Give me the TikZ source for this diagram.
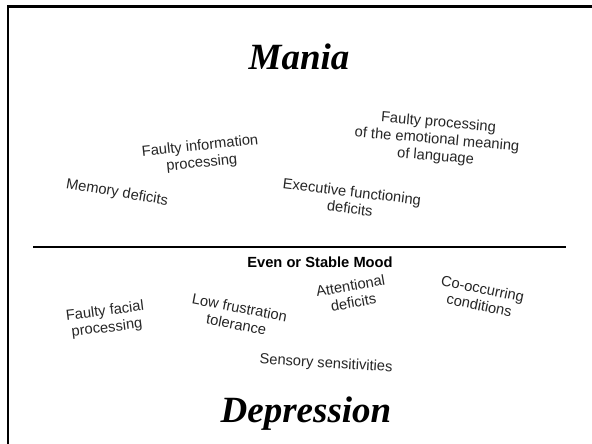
\documentclass[tikz,border=0pt]{standalone}
\usepackage{fontspec}
\setmainfont{Liberation Serif}
\setsansfont{Liberation Sans}
\begin{document}
\begin{tikzpicture}[x=1pt,y=-1pt,
  lbl/.style={font=\sffamily\fontsize{14.7}{17}\selectfont, align=center, inner sep=0pt, text=black!85},
  moodlbl/.style={font=\sffamily\bfseries\fontsize{14.7}{17}\selectfont, inner sep=0pt, text=black},
  titlelbl/.style={font=\rmfamily\bfseries\itshape\fontsize{37}{40}\selectfont, inner sep=0pt, anchor=base, text=black},
  frameline/.style={line width=2.5pt, black},
  divider/.style={line width=2.3pt, black}]
\useasboundingbox (0,0) rectangle (592,444);
\fill[white] (0,0) rectangle (592,444);
\draw[frameline] (8,446) -- (8,6.3) -- (594,6.3);
\coordinate (dl) at (33,247);
\coordinate (dr) at (566,247);
\draw[divider] (dl) -- (dr);
\node[titlelbl] (mania) at (299,70) {Mania};
\node[titlelbl] (depr) at (306,422) {Depression};
\node[moodlbl] (mood) at (320,262) {Even or Stable Mood};
\node[lbl, rotate=-5] (fp) at (437,140) {Faulty processing\\of the emotional meaning\\of language};
\node[lbl, rotate=6] (fi) at (201,155) {Faulty information\\processing};
\node[lbl, rotate=-9.5] (md) at (117,193) {Memory deficits};
\node[lbl, rotate=-7] (ef) at (351,200) {Executive functioning\\deficits};
\node[lbl, rotate=7] (ff) at (106,320) {Faulty facial\\processing};
\node[lbl, rotate=-11] (lf) at (238,316) {Low frustration\\tolerance};
\node[lbl, rotate=10] (ad) at (352,294) {Attentional\\deficits};
\node[lbl, rotate=-11.5] (co) at (481,297) {Co-occurring\\conditions};
\node[lbl, rotate=-3.6] (ss) at (326,364) {Sensory sensitivities};
\end{tikzpicture}
\end{document}
